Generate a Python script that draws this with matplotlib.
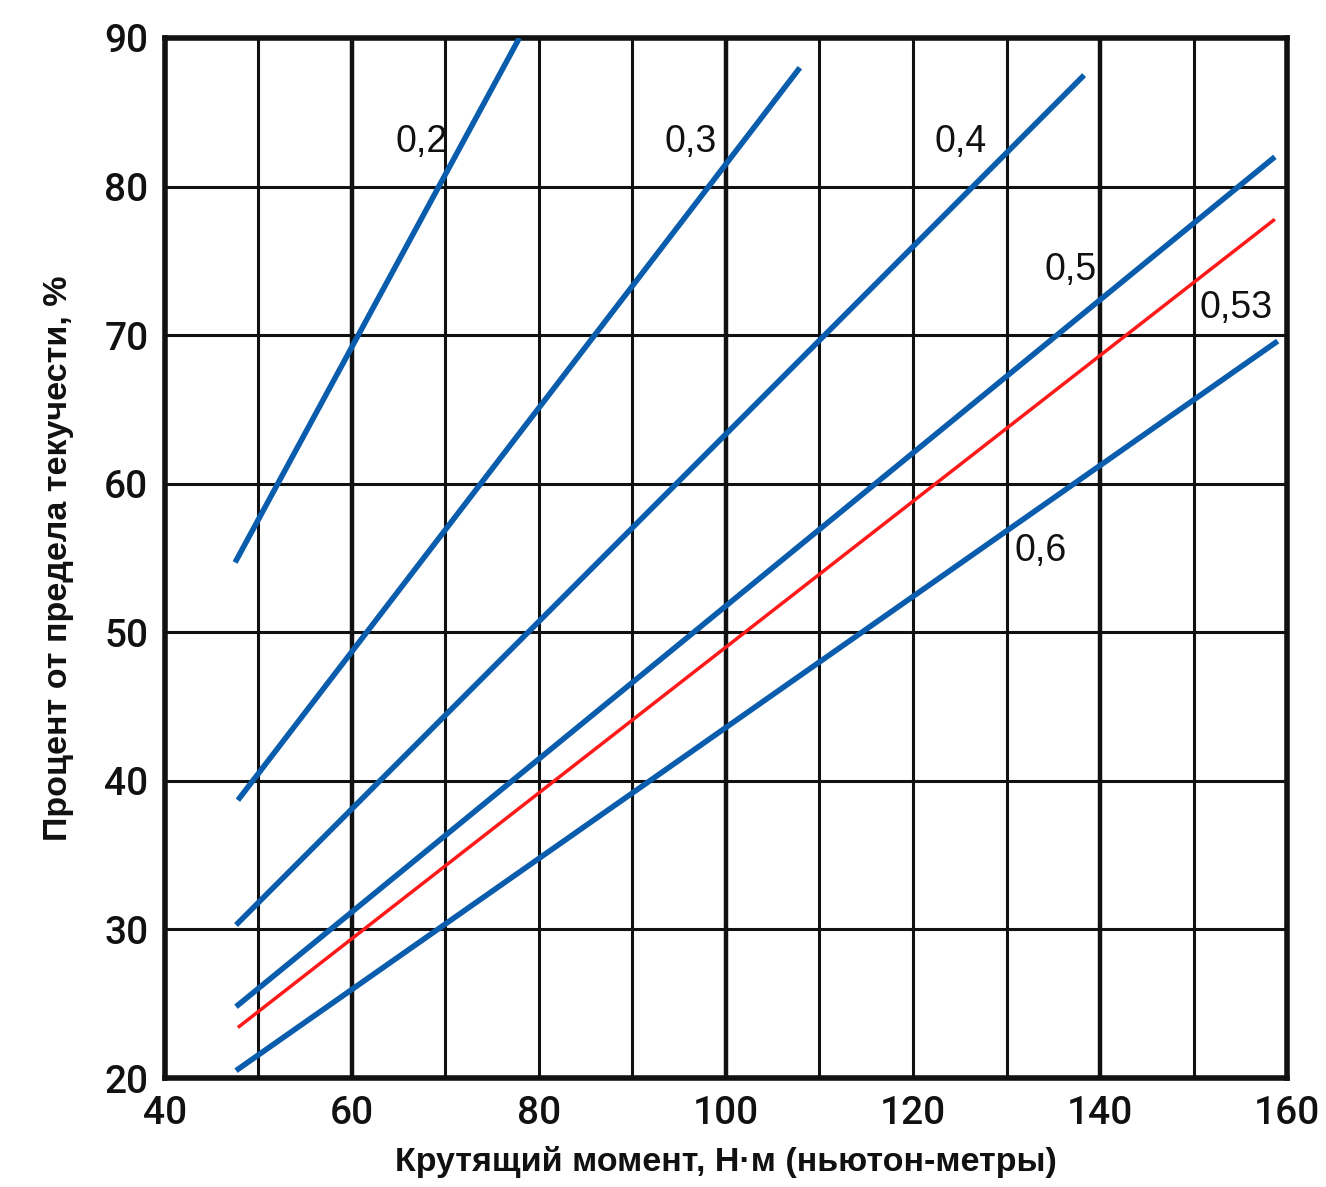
import matplotlib.pyplot as plt

# lines: start/end points
labels = ['0,2', '0,3', '0,4', '0,5', '0,53', '0,6']
x_start = [47.5, 47.8, 47.6, 47.6, 47.8, 47.6]
y_start = [54.7, 38.7, 30.3, 24.8, 23.4, 20.5]
x_end = [77.9, 107.9, 138.3, 158.7, 158.7, 159.0]
y_end = [90.0, 88.0, 87.5, 82.0, 77.8, 69.6]
colors = ['#0a5cad', '#0a5cad', '#0a5cad', '#0a5cad', '#ff1a1a', '#0a5cad']
widths = [4, 4, 4, 4, 2.5, 4]

# label positions
lab_x = [67.4, 96.2, 125.1, 136.9, 154.6, 133.6]
lab_y = [83.0, 83.0, 83.0, 74.4, 71.8, 55.5]

x_ticks = [40, 60, 80, 100, 120, 140, 160]
y_ticks = [20, 30, 40, 50, 60, 70, 80, 90]

plt.rcParams['font.family'] = ['Liberation Sans', 'DejaVu Sans']

fig = plt.figure(figsize=(13.26, 11.87), dpi=100)
ax = fig.add_axes([0.1244, 0.0918, 0.8462, 0.8762])

for gx in range(50, 160, 10):
    lw = 3.2 if gx in (60, 100, 140) else 2.2
    ax.axvline(gx, color='#111111', lw=lw, zorder=1)
for gy in range(30, 90, 10):
    ax.axhline(gy, color='#111111', lw=2.2, zorder=1)

for i in range(len(labels)):
    ax.plot([x_start[i], x_end[i]], [y_start[i], y_end[i]], color=colors[i],
            lw=widths[i], solid_capstyle='butt', zorder=3)
    ax.text(lab_x[i], lab_y[i], labels[i], fontsize=27, ha='center', va='center',
            color='#111111', zorder=4)

ax.set_xlim(40, 160)
ax.set_ylim(20, 90)
ax.set_xticks(x_ticks)
ax.set_yticks(y_ticks)
ax.tick_params(length=0, pad=12)
for lab in ax.get_xticklabels() + ax.get_yticklabels():
    lab.set_fontfamily(['Roboto', 'DejaVu Sans'])
    lab.set_fontweight('medium')
    lab.set_fontsize(28)
    lab.set_color('#111111')
for s in ax.spines.values():
    s.set_linewidth(4)
    s.set_color('#111111')

ax.set_xlabel('Крутящий момент, Н·м (ньютон-метры)', fontsize=24.5, fontweight='bold',
              labelpad=10, color='#111111')
ax.set_ylabel('Процент от предела текучести, %', fontsize=24.5, fontweight='bold',
              labelpad=22, color='#111111')

fig.savefig('out.png', dpi=100)
